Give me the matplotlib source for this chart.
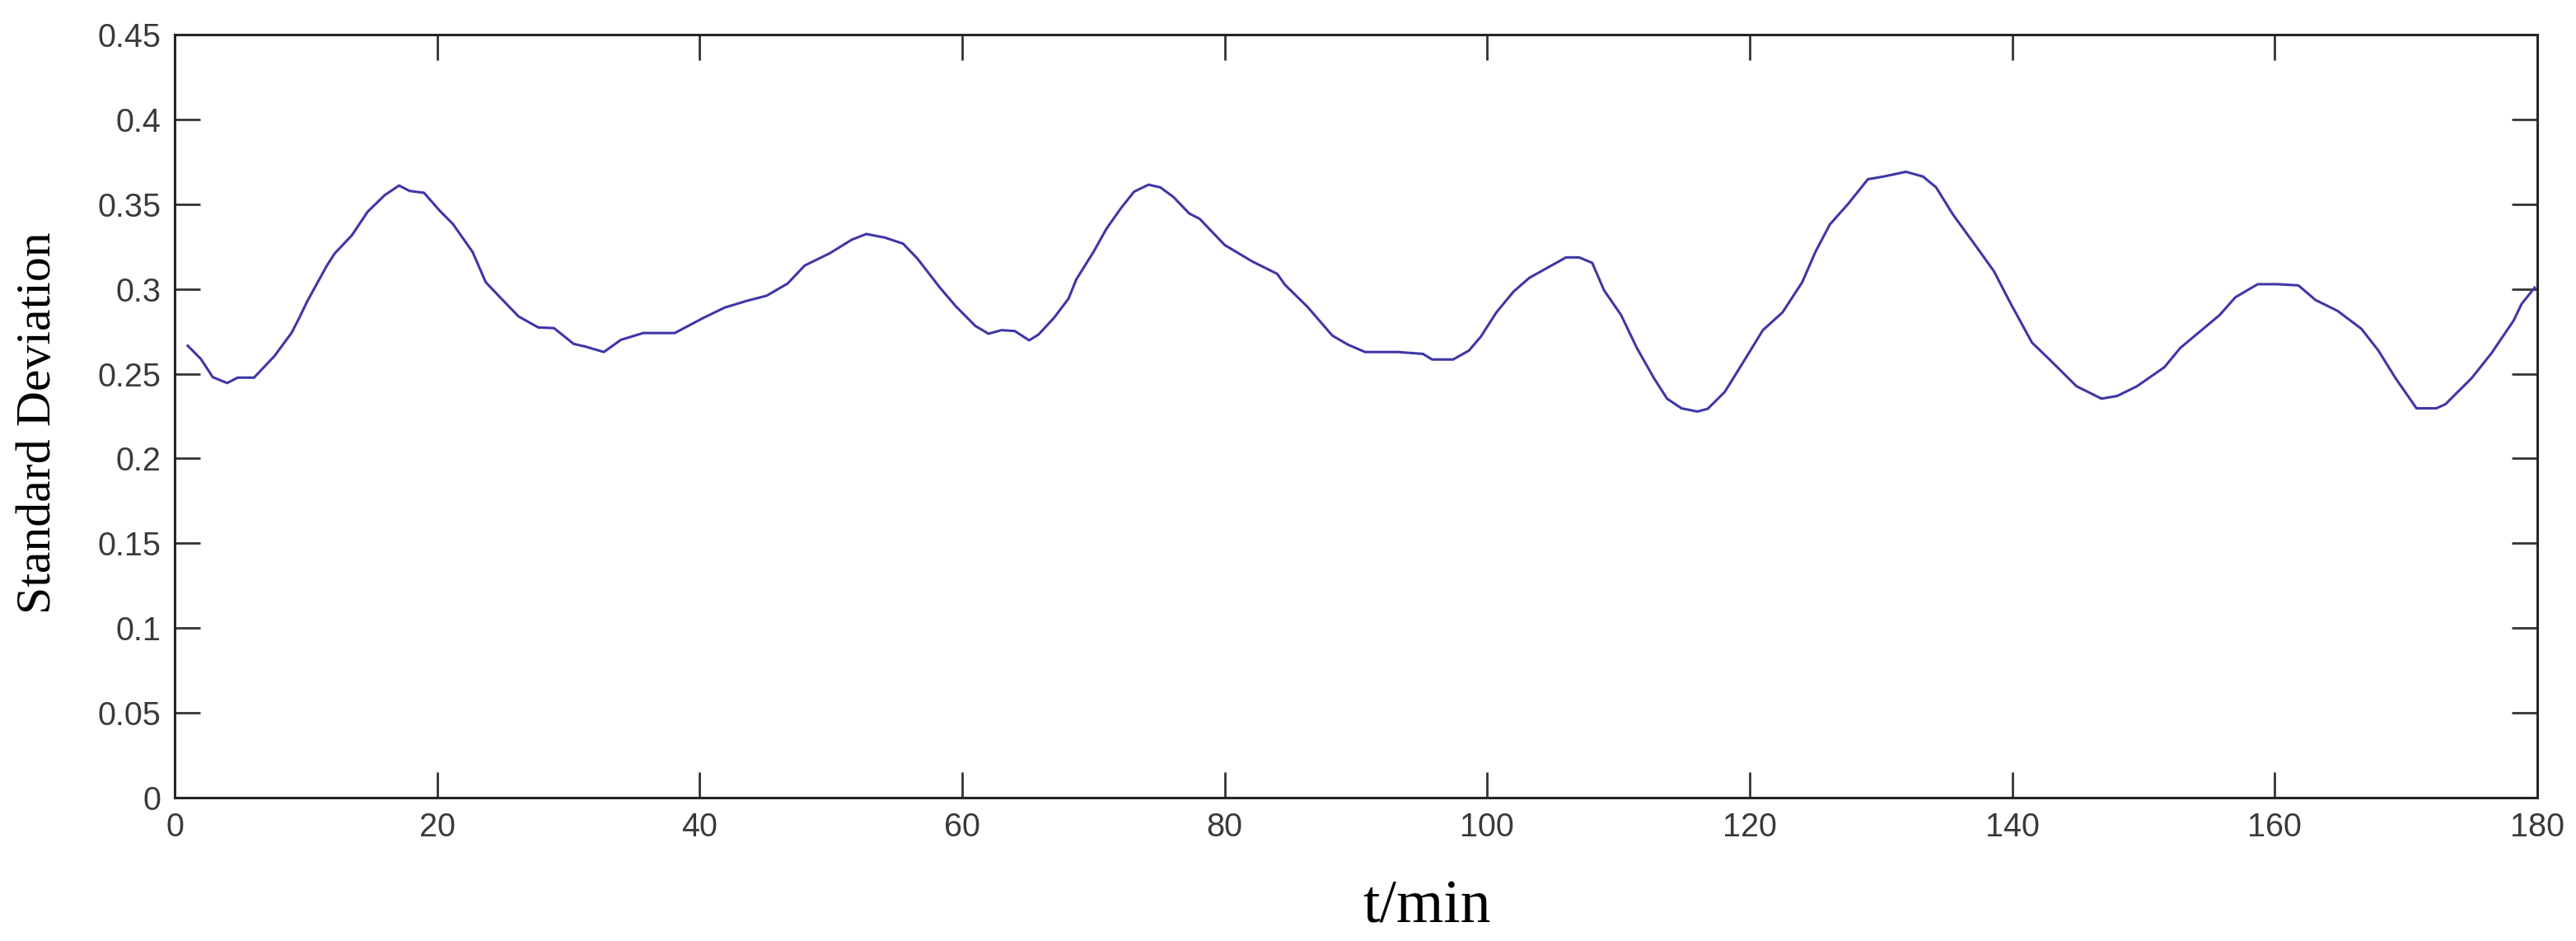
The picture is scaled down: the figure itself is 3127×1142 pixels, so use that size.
import matplotlib
matplotlib.use("Agg")
import matplotlib.pyplot as plt

t_min = [1, 2, 2.9, 4, 4.8, 6.05, 7.6, 8.9, 9.5, 10.1, 11.6, 12.2, 13.5, 14.7, 16.0, 17.1, 17.9, 19.0,
         20.2, 21.2, 22.7, 23.7, 24.8, 26.2, 27.7, 28.9, 30.4, 31.3, 32.7, 34.0, 35.7, 38.1, 40.3, 41.9,
         43.6, 45.1, 46.7, 48.0, 49.9, 51.6, 52.7, 54.1, 55.5, 56.6, 58.3, 59.5, 61.0, 62.0, 63.0, 64.0,
         65.1, 65.8, 67.0, 68.1, 68.7, 70.0, 71.0, 72.1, 73.1, 74.2, 75.1, 76.1, 77.3, 78.1, 80.0, 82.1,
         84.0, 84.6, 86.3, 88.2, 89.4, 90.7, 93.2, 95.1, 95.8, 97.4, 98.6, 99.5, 100.7, 102.0, 103.2,
         104.7, 106.0, 107.0, 108.0, 108.9, 110.2, 111.4, 112.7, 113.7, 114.8, 116.0, 116.8, 118.1,
         119.4, 121.0, 122.5, 124.0, 125.0, 126.1, 127.5, 129.0, 130.2, 131.9, 133.2, 134.2, 135.5,
         137.1, 138.6, 139.9, 141.5, 142.8, 144.9, 146.8, 148.0, 149.5, 151.6, 152.8, 154.3, 155.8,
         157.0, 158.7, 160.2, 161.8, 163.1, 164.8, 166.6, 167.9, 169.2, 170.8, 172.3, 173.0, 175.0,
         176.5, 178.2, 178.8, 179.8]

std_dev = [0.2665, 0.2587, 0.248, 0.2445, 0.2477, 0.2477, 0.2604, 0.274, 0.283, 0.2927, 0.3138, 0.321,
           0.3316, 0.3455, 0.3553, 0.361, 0.3578, 0.3567, 0.3461, 0.3383, 0.3218, 0.304, 0.295, 0.2838,
           0.2773, 0.2769, 0.2676, 0.266, 0.2628, 0.27, 0.274, 0.274, 0.283, 0.289, 0.293, 0.296, 0.3032,
           0.3138, 0.321, 0.3291, 0.3324, 0.3303, 0.3267, 0.3178, 0.3008, 0.2899, 0.2782, 0.2736, 0.2757,
           0.2752, 0.2697, 0.273, 0.283, 0.2943, 0.3057, 0.3218, 0.3356, 0.3477, 0.3574, 0.3615, 0.3599,
           0.3542, 0.3445, 0.3413, 0.3259, 0.3162, 0.3089, 0.3024, 0.2895, 0.2725, 0.2671, 0.2628,
           0.2628, 0.2617, 0.2584, 0.2584, 0.2636, 0.2717, 0.2862, 0.2984, 0.3065, 0.313, 0.3186, 0.3186,
           0.3154, 0.2992, 0.2846, 0.2652, 0.2474, 0.2353, 0.2296, 0.2277, 0.2293, 0.2393, 0.2555,
           0.2757, 0.2862, 0.304, 0.3218, 0.338, 0.3502, 0.3647, 0.3663, 0.3691, 0.3663, 0.3599, 0.3437,
           0.3267, 0.3105, 0.2911, 0.2684, 0.2587, 0.2426, 0.2353, 0.2369, 0.2426, 0.2539, 0.2652,
           0.2749, 0.2846, 0.2951, 0.3028, 0.3028, 0.3021, 0.2935, 0.287, 0.2765, 0.2636, 0.2474, 0.2296,
           0.2296, 0.232, 0.2474, 0.262, 0.2814, 0.2911, 0.3008]

x_ticks = [0, 20, 40, 60, 80, 100, 120, 140, 160, 180]
y_ticks = [0, 0.05, 0.1, 0.15, 0.2, 0.25, 0.3, 0.35, 0.4, 0.45]
y_tick_labels = ["0", "0.05", "0.1", "0.15", "0.2", "0.25", "0.3", "0.35", "0.4", "0.45"]

W, H, DPI = 3127, 1142, 100
fig = plt.figure(figsize=(W / DPI, H / DPI), dpi=DPI)
ax = fig.add_axes([212 / W, 1 - 968 / H, (3080 - 212) / W, (968 - 42) / H])

ax.plot(t_min, std_dev, color="#3f36a8", linewidth=2.2)

ax.set_xlim(0, 180)
ax.set_ylim(0, 0.45)
ax.set_xticks(x_ticks)
ax.set_xticklabels([str(v) for v in x_ticks])
ax.set_yticks(y_ticks)
ax.set_yticklabels(y_tick_labels)

for s in ax.spines.values():
    s.set_linewidth(2.2)
    s.set_color("#262626")

ax.tick_params(axis="both", which="major", direction="in", length=22, width=2.0,
               color="#333333", labelcolor="#3a3a3a", labelsize=28.5,
               top=True, right=True)
ax.tick_params(axis="y", pad=12)
ax.tick_params(axis="x", pad=12)
for lab in ax.get_xticklabels() + ax.get_yticklabels():
    lab.set_fontfamily("Liberation Sans")

fig.text(47 / W, 1 - 513 / H, "Standard Deviation", rotation=90, ha="center", va="center",
         fontsize=43, family="Liberation Serif", color="black")
fig.text(1732 / W, 23 / H, "t/min", ha="center", va="baseline",
         fontsize=53, family="Liberation Serif", color="black")

fig.savefig("out.png", dpi=DPI, facecolor="white")
